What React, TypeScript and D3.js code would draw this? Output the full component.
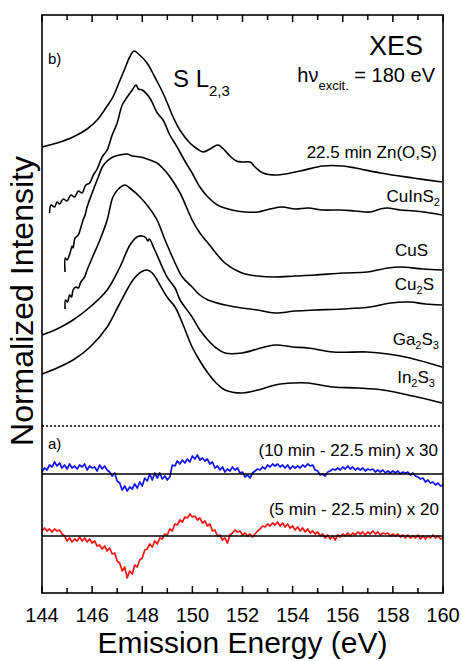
import * as d3 from "d3"
import React from "react"

// emission energy axis (eV)
const xDomain: [number, number] = [144, 160]
const majorTicks = d3.range(144, 161, 2)
const minorTicks = d3.range(145, 160, 2)

// b) S L2,3 XES spectra, [energy, normalized intensity (a.u., stacked)]
const znos: [number, number][] = [[144.0,446],[144.6,450],[145.24,456],[145.8,464],[146.2,473],[146.6,487],[146.83,496],[147.1,512],[147.3,524],[147.5,536],[147.67,542],[147.85,539],[148.19,530],[148.5,516],[148.71,506],[149.0,490],[149.23,476],[149.5,463],[149.9,450],[150.2,444],[150.42,441],[150.7,444],[151.02,448],[151.2,445],[151.5,437],[151.75,432],[152.0,431],[152.3,431],[152.5,426],[152.82,420],[153.38,418],[154.3,422],[155.21,427],[156.0,427],[156.5,425],[157.5,420],[158.8,415],[159.96,411]]
const cuins2: [number, number][] = [[144.3,380],[144.36,388],[144.5,386],[144.6,391],[144.7,389],[144.85,394],[145.0,392],[145.15,398],[145.3,396],[145.45,402],[145.6,400],[145.75,408],[145.9,410],[146.05,418],[146.2,424],[146.4,436],[146.6,443],[146.8,458],[147.0,470],[147.2,488],[147.4,496],[147.6,503],[147.75,508],[147.85,504],[148.0,503],[148.3,495],[148.6,480],[148.83,473],[149.1,458],[149.39,446],[149.7,432],[149.99,420],[150.3,406],[150.62,396],[151.0,388],[151.58,383],[152.1,381],[152.62,381],[153.1,384],[153.58,386],[154.1,384],[154.61,385],[155.2,383],[155.89,383],[156.5,382],[157.09,381],[157.5,384],[157.77,385],[158.3,383],[158.88,382],[159.5,380],[159.96,378]]
const cus: [number, number][] = [[144.92,321],[144.93,335],[145.0,333],[145.12,340],[145.2,347],[145.24,345],[145.32,355],[145.45,358],[145.52,363],[145.64,373],[145.72,378],[145.8,386],[146.0,400],[146.2,413],[146.43,427],[146.6,432],[146.83,436],[147.1,438],[147.39,439],[147.6,437],[147.91,436],[148.2,434],[148.59,430],[148.85,424],[149.11,416],[149.51,400],[149.99,373],[150.3,360],[150.62,350],[151.3,330],[151.98,320],[152.6,317],[153.3,316],[154.1,317],[154.89,318],[156.0,320],[156.97,321],[157.8,325],[158.29,326],[159.2,324],[159.96,323]]
const cu2s: [number, number][] = [[144.92,284],[144.94,293],[145.02,291],[145.1,298],[145.18,296],[145.24,303],[145.35,306],[145.45,305],[145.55,311],[145.7,316],[145.8,323],[146.0,335],[146.31,353],[146.6,373],[146.83,396],[147.05,404],[147.31,408],[147.55,404],[147.91,396],[148.25,386],[148.59,373],[148.91,353],[149.31,330],[149.6,316],[149.99,306],[150.3,298],[150.62,293],[151.3,288],[151.98,285],[152.6,283],[153.3,280],[154.1,282],[154.89,283],[156.0,284],[157.09,286],[157.9,290],[158.68,291],[159.3,289],[159.96,288]]
const ga2s3: [number, number][] = [[144.0,258],[144.6,264],[145.24,273],[145.92,286],[146.6,303],[147.11,326],[147.51,348],[147.79,356],[148.0,357],[148.15,355],[148.22,352],[148.28,354],[148.5,343],[148.99,316],[149.31,305],[149.51,293],[149.99,276],[150.3,263],[150.62,253],[150.95,245],[151.3,240],[151.98,240],[152.6,244],[153.3,248],[154.0,246],[154.61,245],[155.61,241],[156.97,241],[157.8,239],[158.68,235],[159.96,226]]
const in2s3: [number, number][] = [[144.0,219],[144.6,225],[145.24,233],[145.92,246],[146.6,266],[147.11,290],[147.63,313],[147.95,321],[148.19,323],[148.4,320],[148.59,313],[148.99,296],[149.31,286],[149.6,270],[149.99,246],[150.3,232],[150.62,220],[150.95,210],[151.3,203],[151.98,200],[152.62,203],[153.3,208],[154.0,210],[154.61,210],[155.61,206],[156.6,205],[157.61,203],[158.8,197],[159.96,190]]

const spectra = [znos, cuins2, cus, cu2s, ga2s3, in2s3]

// a) difference spectra, sampled every 0.1 eV from 144 eV
const diffEnergy = d3.range(0, 161).map(i => 144 + i * 0.1)
const diff10 = [2,6,4,9,7,12,8,11,6,9,5,10,6,8,5,9,7,10,4,8,6,7,3,9,5,8,4,2,-2,1,-7,-9,-16,-12,-17,-13,-15,-10,-14,-8,-12,-4,-7,0,-6,1,-4,1,-5,-2,-6,-3,9,8,13,10,14,11,15,12,18,15,19,14,16,13,15,10,12,6,8,4,7,2,5,3,7,4,6,1,2,-3,-1,-4,1,3,5,4,7,5,9,7,10,8,10,7,9,6,9,5,8,6,8,6,9,7,10,8,9,4,3,-1,0,-2,2,3,5,4,6,4,7,5,8,5,7,4,6,4,6,3,5,4,5,2,4,2,4,1,3,1,3,1,3,0,2,1,2,-1,1,-2,-3,-5,-4,-8,-6,-9,-8,-11,-9,-12,-11]
const diff5 = [5,8,5,7,4,7,5,6,2,0,-5,-2,-6,-3,-5,-1,-5,-2,-6,-3,-7,-5,-10,-9,-13,-10,-15,-12,-18,-17,-25,-27,-35,-31,-42,-35,-38,-29,-31,-24,-22,-14,-13,-8,-11,-5,-8,-2,-3,2,1,7,5,12,11,16,14,19,18,22,19,20,16,18,13,15,10,12,5,6,0,1,-4,-2,-7,1,3,6,4,5,1,3,0,2,-1,2,5,7,10,9,12,10,13,11,14,10,13,9,12,8,10,6,9,5,8,4,7,3,5,2,4,0,2,-2,1,-3,0,-4,1,-1,2,0,3,0,3,1,4,2,4,1,4,2,5,2,4,1,3,2,3,0,2,0,2,-1,1,-2,1,-2,0,-2,1,-3,0,-3,0,-2,1,-2,0,-3,-2]
const diffOffsets = [119, 57]
const diffLabels = ["(10 min - 22.5 min) x 30", "(5 min - 22.5 min) x 20"]
const separatorLevel = 167

const width = 461
const height = 661
const margin = { left: 42, right: 18, top: 15, bottom: 68 }
const font = "'Liberation Sans', Arial, Helvetica, sans-serif"

const x = d3.scaleLinear().domain(xDomain).range([margin.left, width - margin.right])
const y = d3.scaleLinear().domain([0, 578]).range([height - margin.bottom, margin.top])

const smoothLine = d3.line<[number, number]>().x(d => x(d[0])).y(d => y(d[1])).curve(d3.curveCatmullRom.alpha(0.5))
const rawLine = d3.line<[number, number]>().x(d => x(d[0])).y(d => y(d[1]))

// sample labels: [text piece, is subscript]
const sampleLabels: { parts: [string, boolean][]; lx: number; ly: number }[] = [
    { parts: [["22.5 min Zn(O,S)", false]], lx: 437, ly: 158 },
    { parts: [["CuInS", false], ["2", true]], lx: 440, ly: 202 },
    { parts: [["CuS", false]], lx: 428, ly: 256 },
    { parts: [["Cu", false], ["2", true], ["S", false]], lx: 434, ly: 290 },
    { parts: [["Ga", false], ["2", true], ["S", false], ["3", true]], lx: 439, ly: 345 },
    { parts: [["In", false], ["2", true], ["S", false], ["3", true]], lx: 435, ly: 383 },
]

const SubText = ({ parts, lx, ly, size }: { parts: [string, boolean][]; lx: number; ly: number; size: number }) => {
    let down = false
    return (
        <text x={lx} y={ly} textAnchor="end" fontSize={size} fontFamily={font}>
            {parts.map(([t, sub], i) => {
                let dy = 0
                if (sub && !down) { dy = 4; down = true }
                else if (!sub && down) { dy = -4; down = false }
                return <tspan key={i} dy={dy} fontSize={sub ? size * 0.65 : size}>{t}</tspan>
            })}
        </text>
    )
}

const App = () => {
    const plotTop = margin.top
    const plotBottom = height - margin.bottom
    const diffs = [diff10, diff5]
    const diffColors = ["#1414f0", "#f51414"]
    return (
        <div style={{ position: "fixed", left: 0, top: 0 }}>
            <svg width={width} height={height} style={{ display: "block", background: "#fff" }}>
                {/* ticks, top and bottom, pointing inward */}
                {majorTicks.map(t => (
                    <g key={"M" + t}>
                        <line x1={x(t)} x2={x(t)} y1={plotBottom} y2={plotBottom - 7} stroke="#000" strokeWidth={1.5} />
                        <line x1={x(t)} x2={x(t)} y1={plotTop} y2={plotTop + 7} stroke="#000" strokeWidth={1.5} />
                        <text x={x(t)} y={plotBottom + 29} textAnchor="middle" fontSize={20} fontFamily={font}>{t}</text>
                    </g>
                ))}
                {minorTicks.map(t => (
                    <g key={"m" + t}>
                        <line x1={x(t)} x2={x(t)} y1={plotBottom} y2={plotBottom - 5} stroke="#000" strokeWidth={1.5} />
                        <line x1={x(t)} x2={x(t)} y1={plotTop} y2={plotTop + 5} stroke="#000" strokeWidth={1.5} />
                    </g>
                ))}

                {/* spectra */}
                {spectra.map((s, i) => (
                    <path key={i} d={smoothLine(s) ?? ""} fill="none" stroke="#000" strokeWidth={1.6} strokeLinejoin="round" />
                ))}
                {sampleLabels.map((l, i) => (
                    <SubText key={i} parts={l.parts} lx={l.lx} ly={l.ly} size={17} />
                ))}

                {/* separator */}
                <line x1={x(xDomain[0])} x2={x(xDomain[1])} y1={y(separatorLevel)} y2={y(separatorLevel)}
                    stroke="#000" strokeWidth={1.5} strokeDasharray="2,2" />

                {/* difference spectra */}
                {diffs.map((dv, i) => {
                    const pts: [number, number][] = dv.map((v, j) => [diffEnergy[j], diffOffsets[i] + v])
                    return (
                        <g key={"d" + i}>
                            <path d={rawLine(pts) ?? ""} fill="none" stroke={diffColors[i]} strokeWidth={1.7} strokeLinejoin="round" />
                            <line x1={x(xDomain[0])} x2={x(xDomain[1])} y1={y(diffOffsets[i])} y2={y(diffOffsets[i])} stroke="#000" strokeWidth={1.6} />
                        </g>
                    )
                })}
                <text x={438} y={456} textAnchor="end" fontSize={17} fontFamily={font}>{diffLabels[0]}</text>
                <text x={439} y={515} textAnchor="end" fontSize={17} fontFamily={font}>{diffLabels[1]}</text>

                {/* annotations */}
                <text x={48} y={64} fontSize={15} fontFamily={font}>b)</text>
                <text x={48} y={449} fontSize={15} fontFamily={font}>a)</text>
                <text x={423} y={55} textAnchor="end" fontSize={27} fontFamily={font}>XES</text>
                <text x={435} y={82} textAnchor="end" fontSize={20} fontFamily={font}>
                    <tspan>hν</tspan>
                    <tspan dy={8} fontSize={13}>excit.</tspan>
                    <tspan dy={-8}> = 180 eV</tspan>
                </text>
                <text x={173} y={87} fontSize={24} fontFamily={font}>
                    <tspan>S L</tspan>
                    <tspan dy={9} fontSize={15}>2,3</tspan>
                </text>

                {/* frame */}
                <rect x={margin.left} y={plotTop} width={width - margin.left - margin.right} height={plotBottom - plotTop}
                    fill="none" stroke="#000" strokeWidth={1.6} />

                {/* axis titles */}
                <text x={x(152)} y={653} textAnchor="middle" fontSize={30} fontFamily={font}>Emission Energy (eV)</text>
                <text transform={`translate(33, 301) rotate(-90)`} textAnchor="middle" fontSize={32} fontFamily={font}>Normalized Intensity</text>
            </svg>
        </div>
    )
}

export default App
